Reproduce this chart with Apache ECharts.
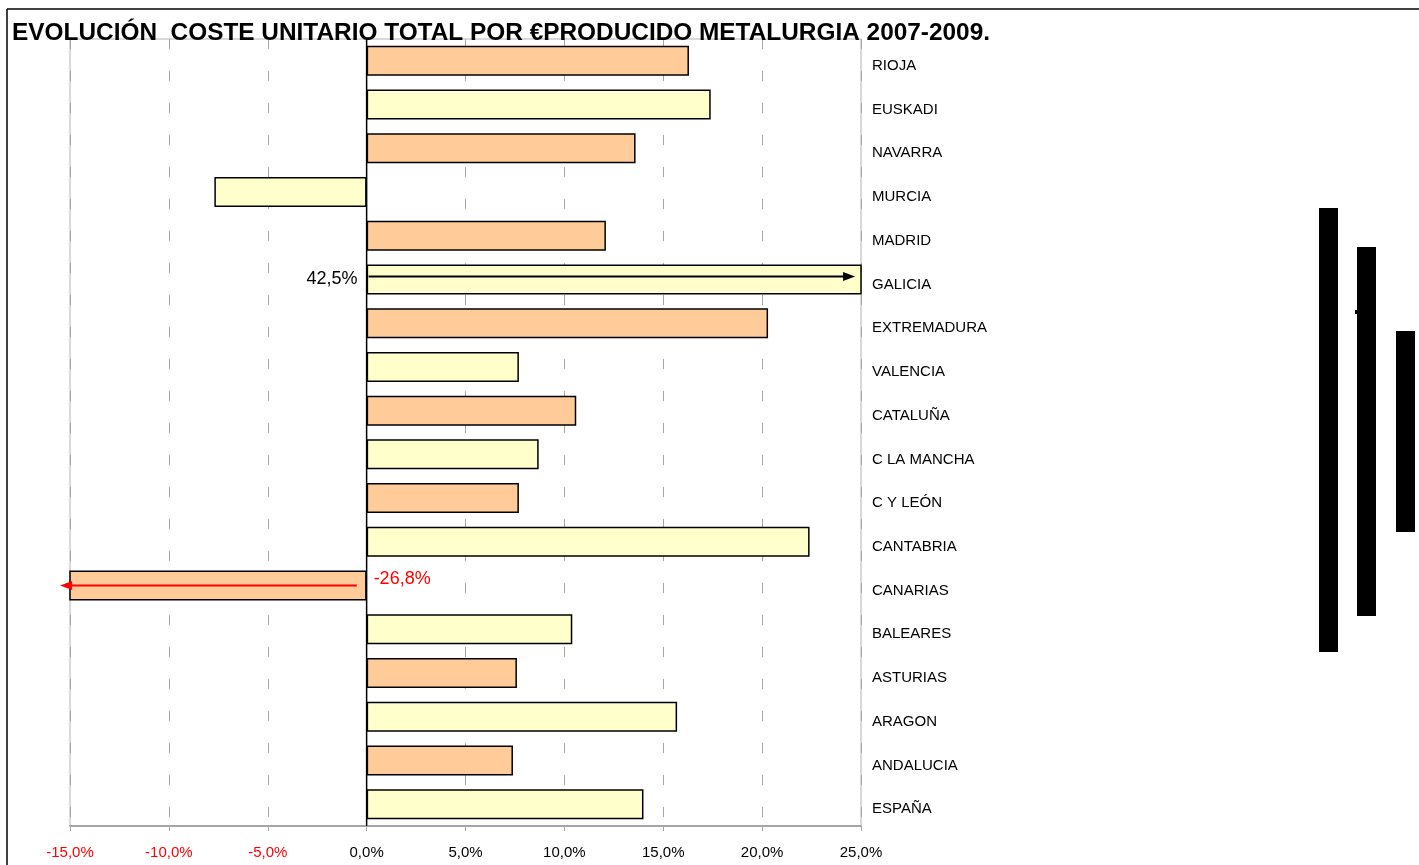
<!DOCTYPE html>
<html>
<head>
<meta charset="utf-8">
<script src="https://cdn.jsdelivr.net/npm/echarts@6/dist/echarts.min.js"></script>
<style>
	html, body { margin: 0; padding: 0; background: #fff; }
	#main { width: 1419px; height: 865px; }
</style>
</head>
<body>
<div id="main"></div>
<script>
	// regiones, de arriba a abajo
	var regiones = ['RIOJA', 'EUSKADI', 'NAVARRA', 'MURCIA', 'MADRID', 'GALICIA', 'EXTREMADURA', 'VALENCIA',
		'CATALUÑA', 'C LA MANCHA', 'C Y LEÓN', 'CANTABRIA', 'CANARIAS', 'BALEARES', 'ASTURIAS', 'ARAGON',
		'ANDALUCIA', 'ESPAÑA'];
	// evolucion coste unitario 2007-2009 (%)
	var evolucion = [16.3, 17.4, 13.6, -7.7, 12.1, 42.5, 20.3, 7.7, 10.6, 8.7, 7.7, 22.4, -26.8, 10.4, 7.6, 15.7, 7.4, 14.0];
	var ejeMin = -15, ejeMax = 25, ejePaso = 5;

	var naranja = '#FFCC99', amarillo = '#FFFFCC';
	var FONT = 'Liberation Sans, Arial, sans-serif';

	function pct(v) {
		return v.toFixed(1).replace('.', ',') + '%';
	}

	var iGal = regiones.indexOf('GALICIA');
	var iCan = regiones.indexOf('CANARIAS');

	var myChart = echarts.init(document.getElementById('main'));
	var option = {
		animation: false,
		textStyle: { fontFamily: FONT },
		title: {
			text: 'EVOLUCIÓN  COSTE UNITARIO TOTAL POR €PRODUCIDO METALURGIA 2007-2009.',
			left: 7,
			top: 16,
			textStyle: { fontSize: 24.4, fontWeight: 'bold', color: '#000', fontFamily: FONT }
		},
		grid: {
			left: 70,
			right: 558,
			top: 39,
			bottom: 39,
			show: true,
			borderColor: '#b3b3b3',
			borderWidth: 1
		},
		xAxis: {
			type: 'value',
			min: ejeMin,
			max: ejeMax,
			interval: ejePaso,
			axisLine: { show: true, lineStyle: { color: '#a6a6a6', width: 2 } },
			axisTick: { show: true, length: 5, lineStyle: { color: '#a6a6a6' } },
			axisLabel: {
				fontSize: 15,
				margin: 19,
				formatter: function (v) { return pct(v); },
				color: function (v) { return v < 0 ? '#ff0000' : '#000'; }
			},
			splitLine: { show: true, lineStyle: { color: '#a6a6a6', type: [10, 22] } }
		},
		yAxis: {
			type: 'category',
			data: regiones,
			inverse: true,
			position: 'right',
			axisLine: { show: false },
			axisTick: { show: false },
			axisLabel: { fontSize: 15, color: '#000', margin: 11, verticalAlign: 'top', lineHeight: 10 }
		},
		series: [{
			type: 'bar',
			data: evolucion.map(function (v, i) {
				return { value: v, itemStyle: { color: i % 2 === 0 ? naranja : amarillo } };
			}),
			barWidth: 30,
			itemStyle: { borderColor: '#000', borderWidth: 1.5 }
		}]
	};
	myChart.setOption(option);

	// anotaciones: linea del cero y flechas de los valores fuera de escala
	function flecha(p0, p1, color) {
		var dir = p1[0] > p0[0] ? 1 : -1;
		var tip = p1[0], y = p1[1];
		return [
			{ type: 'line', z: 10, shape: { x1: p0[0], y1: y, x2: tip - dir * 10, y2: y }, style: { stroke: color, lineWidth: 2 } },
			{ type: 'polygon', z: 10, shape: { points: [[tip, y], [tip - dir * 12, y - 4.5], [tip - dir * 12, y + 4.5]] }, style: { fill: color } }
		];
	}

	var conv = function (pt) { return myChart.convertToPixel({ gridIndex: 0 }, pt); };
	var cero = conv([0, 0])[0];
	var gTop = 39, gBottom = 865 - 39;

	var pGal0 = conv([0.1, iGal]), pGal1 = conv([24.7, iGal]);
	pGal0[1] -= 3; pGal1[1] -= 3;
	var pCan0 = conv([-0.5, iCan]), pCan1 = conv([-15.5, iCan]);

	var g = [
		{ type: 'line', shape: { x1: 7, y1: 9, x2: 1419, y2: 9 }, style: { stroke: '#000', lineWidth: 1.5 } },
		{ type: 'line', shape: { x1: 7, y1: 9, x2: 7, y2: 865 }, style: { stroke: '#000', lineWidth: 1.5 } },
		{ type: 'rect', shape: { x: 1319, y: 208, width: 19, height: 444 }, style: { fill: '#000' } },
		{ type: 'rect', shape: { x: 1357, y: 247, width: 19, height: 369 }, style: { fill: '#000' } },
		{ type: 'rect', shape: { x: 1396, y: 331, width: 19, height: 201 }, style: { fill: '#000' } },
		{ type: 'rect', shape: { x: 1355, y: 310, width: 2, height: 4 }, style: { fill: '#000' } },
		{ type: 'line', z: 10, shape: { x1: cero, y1: gTop, x2: cero, y2: gBottom }, style: { stroke: '#000', lineWidth: 1.5 } },
		{
			type: 'text', z: 10, x: cero - 9, y: conv([0, iGal])[1],
			style: { text: pct(evolucion[iGal]), fill: '#000', font: '18px ' + FONT, align: 'right', verticalAlign: 'middle' }
		},
		{
			type: 'text', z: 10, x: cero + 7, y: conv([0, iCan])[1] - 6,
			style: { text: pct(evolucion[iCan]), fill: '#ff0000', font: '18px ' + FONT, align: 'left', verticalAlign: 'middle' }
		}
	].concat(flecha(pGal0, pGal1, '#000'), flecha(pCan0, pCan1, '#ff0000'));

	myChart.setOption({ graphic: g });
</script>
</body>
</html>
